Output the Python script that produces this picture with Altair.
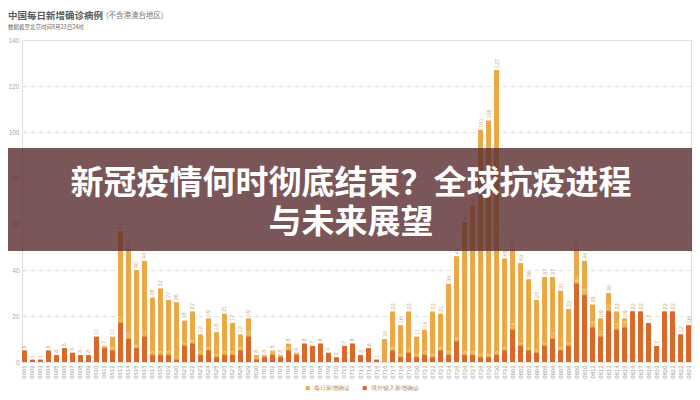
import altair as alt
import pandas as pd

dates = (["06%02d" % d for d in range(1, 31)] +
         ["07%02d" % d for d in range(1, 32)] +
         ["08%02d" % d for d in range(1, 24)])

totals = [5, 1, 1, 5, 3, 6, 4, 3, 3, 11,
          7, 11, 57, 49, 40, 44, 28, 32, 27, 26,
          18, 22, 12, 19, 13, 21, 17, 12, 19, 3,
          3, 5, 3, 8, 4, 8, 7, 8, 4, 2,
          7, 8, 3, 6, 1, 10, 22, 16, 22, 11,
          14, 22, 21, 34, 46, 61, 68, 101, 105, 127,
          45, 49, 43, 36, 27, 37, 37, 31, 23, 49,
          44, 25, 19, 30, 22, 19, 22, 22, 17, 7,
          22, 22, 12, 16]

imported = [5, 1, 1, 5, 3, 6, 4, 3, 3, 11,
            6, 5, 17, 10, 6, 11, 3, 3, 3, 1,
            7, 8, 3, 5, 2, 3, 3, 5, 11, 1,
            2, 3, 2, 5, 3, 8, 7, 8, 4, 2,
            7, 8, 3, 6, 1, 0, 5, 2, 4, 2,
            3, 2, 5, 3, 9, 3, 3, 2, 2, 3,
            5, 14, 7, 5, 4, 7, 10, 5, 7, 34,
            29, 15, 11, 22, 14, 15, 22, 22, 17, 7,
            22, 22, 12, 16]

series_names = ["每日新增确诊", "境外输入新增确诊"]
series_colors = ["#E9A944", "#D8692A"]
y_ticks = [0, 20, 40, 60, 80, 100, 120, 140]

title_main = ["中国每日新增确诊病例"]
title_note = ["(不含港澳台地区)"]
title_sub = ["数据截至北京时间8月23日24时"]
banner_lines = ["新冠疫情何时彻底结束？全球抗疫进程", "与未来展望"]

n = len(dates)
df = pd.DataFrame({
    "date": dates + dates,
    "series": [series_names[0]] * n + [series_names[1]] * n,
    "value": totals + imported,
    "ord": [0] * n + [1] * n,
})
lab_tot = pd.DataFrame({"date": dates, "value": totals})
lab_imp = pd.DataFrame({"date": dates, "value": imported, "total": totals})
lab_imp = lab_imp[(lab_imp["value"] > 0) & (lab_imp["value"] < lab_imp["total"])]

xenc = alt.X("date:N", sort=dates,
             scale=alt.Scale(paddingInner=0.38, paddingOuter=0),
             axis=alt.Axis(title=None, labelAngle=270, labelFontSize=6,
                           labelColor="#9a9a9a", ticks=False, domain=False,
                           labelPadding=3, labelFont="Liberation Sans"))
yscale = alt.Scale(domain=[0, 140], nice=False)

bars = alt.Chart(df).mark_bar().encode(
    x=xenc,
    y=alt.Y("value:Q", stack=None, scale=yscale,
            axis=alt.Axis(title=None, values=y_ticks, grid=True,
                          gridDash=[5, 3], gridColor="#e2e2e2",
                          domain=False, ticks=False, labelFontSize=6.5,
                          labelColor="#a8a8a8", labelPadding=3,
                          labelFont="Liberation Sans")),
    color=alt.Color("series:N",
                    scale=alt.Scale(domain=series_names, range=series_colors),
                    legend=alt.Legend(title=None, orient="none", legendX=283,
                                      legendY=345, direction="horizontal",
                                      symbolType="square", symbolSize=16,
                                      labelFontSize=5.5, labelColor="#b58a5a",
                                      columnPadding=12, labelOffset=3,
                                      symbolStrokeWidth=0)),
    order=alt.Order("ord:Q"),
)

tot_text = alt.Chart(lab_tot).mark_text(
    angle=270, align="left", baseline="middle", dx=2, fontSize=5.5,
    color="#c9a676", font="Liberation Sans"
).encode(x=alt.X("date:N", sort=dates), y=alt.Y("value:Q", scale=yscale),
         text="value:Q")

imp_text = alt.Chart(lab_imp).mark_text(
    angle=270, align="left", baseline="middle", dx=1, fontSize=5.5,
    color="#f6dcb6", font="Liberation Sans"
).encode(x=alt.X("date:N", sort=dates), y=alt.Y("value:Q", scale=yscale),
         text="value:Q")

banner = alt.Chart(pd.DataFrame({"a": [0]})).mark_rect(
    color="rgb(90,44,46)", opacity=0.8
).encode(x=alt.value(-14), x2=alt.value(670), y=alt.value(108), y2=alt.value(211))

banner_txt = alt.Chart(pd.DataFrame({"t": ["\n".join(banner_lines)]})).mark_text(
    font="Noto Sans CJK SC", fontWeight="bold", fontSize=33, lineBreak="\n",
    lineHeight=39, color="white", align="center", baseline="middle"
).encode(x=alt.value(329), y=alt.value(144), text="t:N")

t1 = alt.Chart(pd.DataFrame({"t": title_main})).mark_text(
    font="Noto Sans CJK SC", fontWeight="bold", fontSize=9.5, color="#5a5a5a",
    align="left", baseline="middle"
).encode(x=alt.value(-14), y=alt.value(-24), text="t:N")
t2 = alt.Chart(pd.DataFrame({"t": title_note})).mark_text(
    font="Noto Sans CJK SC", fontSize=7.5, color="#777777",
    align="left", baseline="middle"
).encode(x=alt.value(84), y=alt.value(-24), text="t:N")
t3 = alt.Chart(pd.DataFrame({"t": title_sub})).mark_text(
    font="Noto Sans CJK SC", fontSize=5.5, color="#666666",
    align="left", baseline="middle"
).encode(x=alt.value(-14), y=alt.value(-13), text="t:N")

chart = alt.layer(bars, tot_text, imp_text, banner, banner_txt, t1, t2, t3).properties(
    width=669, height=322,
    padding={"left": 14, "top": 32, "right": 1, "bottom": 30},
    autosize=alt.AutoSizeParams(type="none"),
).configure_view(stroke=None).configure(background="white")

chart.save("out.html", embed_options={"renderer": "svg", "actions": False})
